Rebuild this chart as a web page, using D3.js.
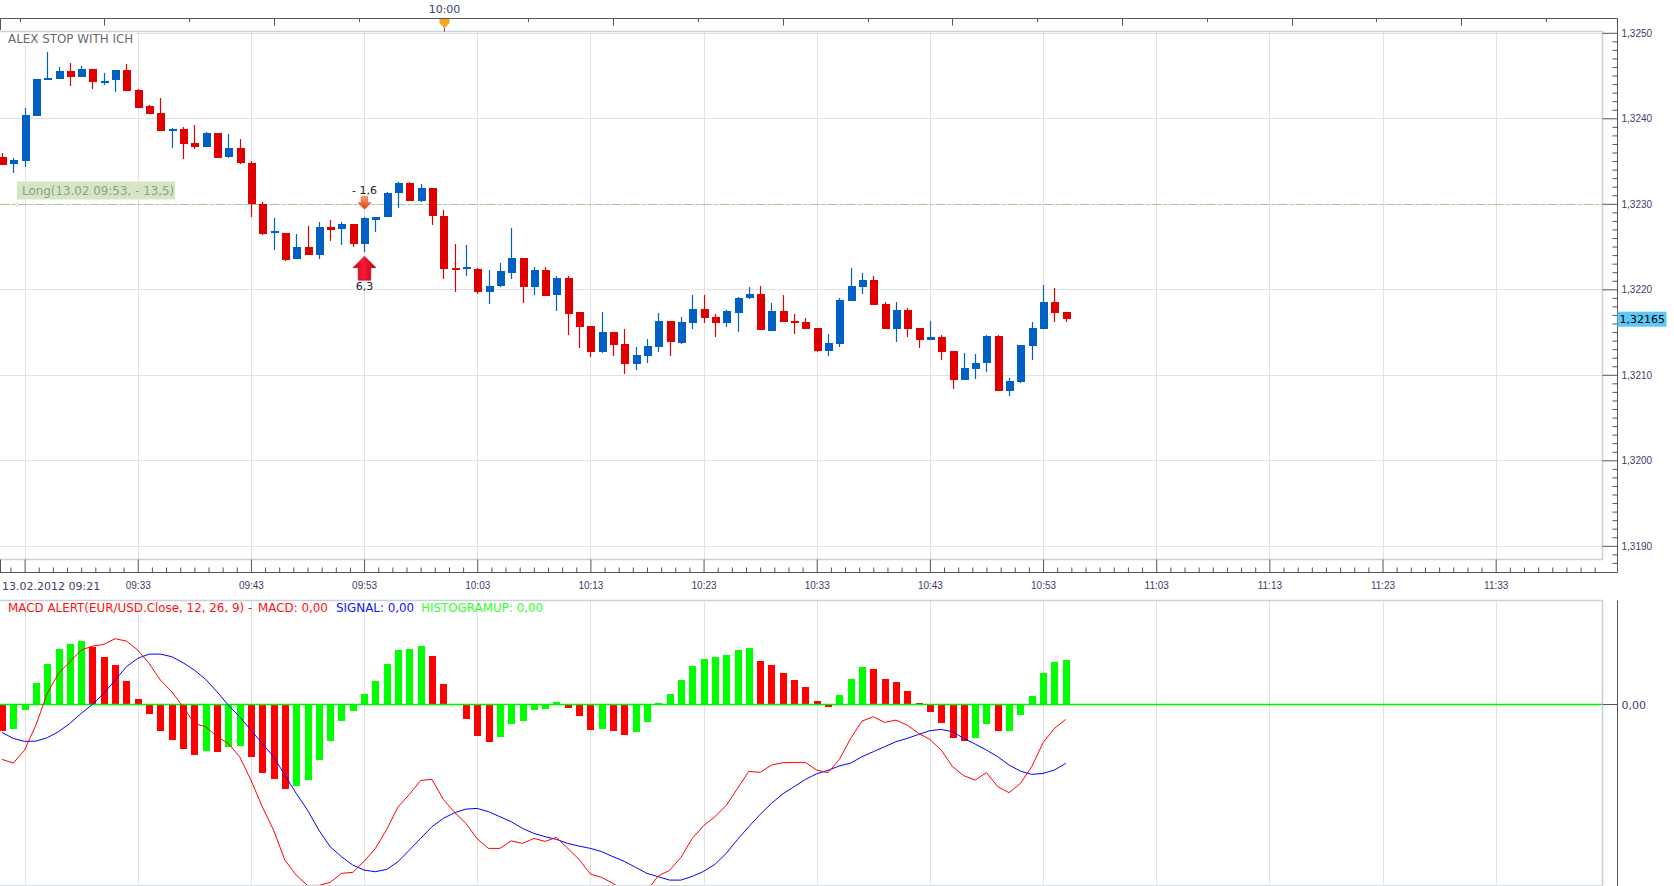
<!DOCTYPE html>
<html>
<head>
<meta charset="utf-8">
<title>ALEX STOP WITH ICH - EUR/USD 1 min</title>
<script src="https://cdnjs.cloudflare.com/ajax/libs/d3/7.8.5/d3.min.js"></script>
<style>
  body { margin: 0; background: #fff; }
  svg { display: block; font-family: "DejaVu Sans", Verdana, sans-serif; font-size: 11px; }
  .axis text { fill: #3d3d6b; }
  .axis line { stroke: #555; }
  .axis .domain { display: none; }
  .wide { font-size: 11.9px; }
</style>
</head>
<body>
<svg id="chart" width="1674" height="886"></svg>
<script>
// EUR/USD one minute candles, first one is 13.02.2012 09:21
var opens = [
  1.32355, 1.32346, 1.32350, 1.32403, 1.32445, 1.32446, 1.32455, 1.32449, 1.32458, 1.32443,
  1.32444, 1.32456, 1.32433, 1.32414, 1.32406, 1.32387, 1.32388, 1.32371, 1.32367, 1.32383,
  1.32354, 1.32365, 1.32348, 1.32300, 1.32266, 1.32266, 1.32235, 1.32249, 1.32240, 1.32273,
  1.32270, 1.32276, 1.32253, 1.32282, 1.32285, 1.32312, 1.32324, 1.32303, 1.32318, 1.32286,
  1.32225, 1.32224, 1.32224, 1.32197, 1.32203, 1.32220, 1.32237, 1.32203, 1.32223, 1.32193,
  1.32213, 1.32173, 1.32157, 1.32127, 1.32150, 1.32136, 1.32113, 1.32122, 1.32133, 1.32163,
  1.32138, 1.32161, 1.32177, 1.32168, 1.32161, 1.32173, 1.32189, 1.32194, 1.32152, 1.32175,
  1.32163, 1.32162, 1.32155, 1.32128, 1.32136, 1.32186, 1.32203, 1.32211, 1.32183, 1.32154,
  1.32176, 1.32155, 1.32141, 1.32144, 1.32128, 1.32094, 1.32107, 1.32113, 1.32145, 1.32081,
  1.32092, 1.32134, 1.32154, 1.32185, 1.32173
];
var highs = [
  1.32359, 1.32354, 1.32412, 1.32446, 1.32478, 1.32460, 1.32465, 1.32461, 1.32458, 1.32453,
  1.32456, 1.32463, 1.32434, 1.32415, 1.32424, 1.32389, 1.32390, 1.32392, 1.32384, 1.32383,
  1.32382, 1.32376, 1.32350, 1.32302, 1.32283, 1.32266, 1.32265, 1.32274, 1.32279, 1.32281,
  1.32279, 1.32276, 1.32285, 1.32285, 1.32314, 1.32326, 1.32325, 1.32323, 1.32318, 1.32293,
  1.32253, 1.32252, 1.32225, 1.32222, 1.32231, 1.32272, 1.32237, 1.32226, 1.32226, 1.32216,
  1.32216, 1.32173, 1.32157, 1.32173, 1.32150, 1.32154, 1.32133, 1.32142, 1.32172, 1.32163,
  1.32168, 1.32193, 1.32193, 1.32171, 1.32176, 1.32191, 1.32203, 1.32204, 1.32184, 1.32193,
  1.32171, 1.32166, 1.32155, 1.32148, 1.32190, 1.32225, 1.32219, 1.32216, 1.32185, 1.32185,
  1.32178, 1.32155, 1.32163, 1.32147, 1.32128, 1.32125, 1.32124, 1.32147, 1.32147, 1.32096,
  1.32135, 1.32162, 1.32205, 1.32202, 1.32174
];
var lows = [
  1.32345, 1.32336, 1.32343, 1.32403, 1.32445, 1.32446, 1.32438, 1.32449, 1.32434, 1.32439,
  1.32431, 1.32432, 1.32412, 1.32405, 1.32385, 1.32365, 1.32352, 1.32364, 1.32367, 1.32354,
  1.32354, 1.32347, 1.32284, 1.32263, 1.32246, 1.32233, 1.32235, 1.32240, 1.32235, 1.32257,
  1.32252, 1.32250, 1.32244, 1.32267, 1.32285, 1.32295, 1.32303, 1.32302, 1.32275, 1.32212,
  1.32197, 1.32215, 1.32195, 1.32183, 1.32203, 1.32212, 1.32184, 1.32193, 1.32192, 1.32175,
  1.32147, 1.32131, 1.32121, 1.32126, 1.32122, 1.32101, 1.32106, 1.32114, 1.32127, 1.32122,
  1.32136, 1.32154, 1.32160, 1.32144, 1.32156, 1.32150, 1.32189, 1.32152, 1.32152, 1.32162,
  1.32148, 1.32154, 1.32127, 1.32122, 1.32133, 1.32186, 1.32195, 1.32182, 1.32154, 1.32138,
  1.32144, 1.32131, 1.32141, 1.32117, 1.32083, 1.32094, 1.32095, 1.32103, 1.32081, 1.32075,
  1.32090, 1.32117, 1.32154, 1.32162, 1.32162
];
var closes = [
  1.32346, 1.32351, 1.32404, 1.32446, 1.32447, 1.32455, 1.32448, 1.32458, 1.32443, 1.32444,
  1.32456, 1.32432, 1.32412, 1.32405, 1.32385, 1.32388, 1.32370, 1.32366, 1.32383, 1.32354,
  1.32365, 1.32347, 1.32300, 1.32265, 1.32268, 1.32235, 1.32249, 1.32240, 1.32273, 1.32270,
  1.32276, 1.32253, 1.32283, 1.32285, 1.32313, 1.32324, 1.32303, 1.32318, 1.32285, 1.32224,
  1.32223, 1.32226, 1.32197, 1.32204, 1.32221, 1.32237, 1.32203, 1.32223, 1.32193, 1.32213,
  1.32171, 1.32156, 1.32127, 1.32150, 1.32135, 1.32113, 1.32123, 1.32134, 1.32163, 1.32139,
  1.32162, 1.32177, 1.32167, 1.32161, 1.32175, 1.32190, 1.32194, 1.32152, 1.32175, 1.32162,
  1.32161, 1.32154, 1.32128, 1.32137, 1.32187, 1.32204, 1.32211, 1.32182, 1.32154, 1.32176,
  1.32154, 1.32141, 1.32144, 1.32127, 1.32094, 1.32108, 1.32114, 1.32145, 1.32081, 1.32093,
  1.32135, 1.32155, 1.32185, 1.32172, 1.32165
];

// MACD(12, 26, 9) in pips, same minutes as the candles
var macdValues = [
  -0.550, -0.587, -0.457, -0.207, 0.110, 0.310, 0.427, 0.543, 0.583, 0.600,
  0.657, 0.633, 0.543, 0.410, 0.243, 0.127, -0.023, -0.190, -0.223, -0.323,
  -0.390, -0.523, -0.757, -1.023, -1.257, -1.557, -1.707, -1.810, -1.810, -1.780,
  -1.690, -1.680, -1.570, -1.440, -1.250, -1.025, -0.900, -0.760, -0.750, -0.950,
  -1.080, -1.190, -1.345, -1.440, -1.440, -1.365, -1.390, -1.340, -1.370, -1.330,
  -1.440, -1.550, -1.697, -1.730, -1.790, -1.870, -1.900, -1.865, -1.715, -1.660,
  -1.530, -1.340, -1.213, -1.123, -1.010, -0.840, -0.670, -0.680, -0.607, -0.583,
  -0.580, -0.580, -0.657, -0.683, -0.550, -0.340, -0.167, -0.123, -0.180, -0.157,
  -0.207, -0.290, -0.350, -0.457, -0.623, -0.713, -0.757, -0.683, -0.823, -0.883,
  -0.790, -0.623, -0.383, -0.240, -0.150
];
var signalValues = [
  -0.280, -0.340, -0.370, -0.367, -0.333, -0.273, -0.190, -0.090, 0.000, 0.110,
  0.243, 0.377, 0.460, 0.503, 0.503, 0.477, 0.417, 0.343, 0.250, 0.127,
  -0.007, -0.123, -0.257, -0.390, -0.523, -0.707, -0.890, -1.057, -1.257, -1.423,
  -1.523, -1.607, -1.657, -1.673, -1.650, -1.573, -1.457, -1.340, -1.223, -1.140,
  -1.083, -1.047, -1.040, -1.073, -1.123, -1.173, -1.240, -1.290, -1.323, -1.350,
  -1.390, -1.417, -1.440, -1.473, -1.523, -1.570, -1.630, -1.690, -1.723, -1.757,
  -1.757, -1.720, -1.670, -1.600, -1.490, -1.350, -1.223, -1.100, -0.990, -0.895,
  -0.823, -0.750, -0.693, -0.660, -0.615, -0.587, -0.523, -0.473, -0.423, -0.373,
  -0.340, -0.300, -0.263, -0.250, -0.273, -0.340, -0.397, -0.457, -0.523, -0.607,
  -0.667, -0.700, -0.690, -0.657, -0.590
];
var histValues = [
  -0.263, -0.243, -0.053, 0.213, 0.403, 0.553, 0.603, 0.633, 0.570, 0.473,
  0.393, 0.233, 0.053, -0.097, -0.263, -0.353, -0.443, -0.503, -0.463, -0.473,
  -0.423, -0.413, -0.523, -0.683, -0.743, -0.843, -0.813, -0.753, -0.553, -0.363,
  -0.163, -0.063, 0.100, 0.237, 0.403, 0.543, 0.553, 0.583, 0.483, 0.203,
  0.003, -0.143, -0.313, -0.373, -0.323, -0.193, -0.167, -0.053, -0.043, 0.027,
  -0.033, -0.117, -0.257, -0.250, -0.267, -0.307, -0.273, -0.173, 0.013, 0.103,
  0.243, 0.383, 0.453, 0.473, 0.493, 0.543, 0.563, 0.433, 0.393, 0.313,
  0.243, 0.173, 0.033, -0.027, 0.093, 0.253, 0.373, 0.353, 0.253, 0.223,
  0.133, 0.010, -0.077, -0.187, -0.337, -0.367, -0.337, -0.197, -0.270, -0.265,
  -0.107, 0.083, 0.313, 0.423, 0.443
];
var histBefore = -0.200; // bar at 09:20, off the left edge

var timeTicks = ["09:23", "09:33", "09:43", "09:53", "10:03", "10:13", "10:23",
                 "10:33", "10:43", "10:53", "11:03", "11:13", "11:23", "11:33"];
var priceTicks = [1.3190, 1.3200, 1.3210, 1.3220, 1.3230, 1.3240, 1.3250];

var strategyName = "ALEX STOP WITH ICH";
var position = {label: "Long(13.02 09:53, - 13,5)", price: 1.3230, entry: "09:53", up: "6,3", down: "- 1,6"};

var day = "2012-02-13 ";
var parseT = d3.timeParse("%Y-%m-%d %H:%M");
var t0 = parseT(day + "09:21");
var loc = d3.formatLocale({decimal: ",", thousands: ".", grouping: [3], currency: ["", ""]});
var fmt4 = loc.format(".4f"), fmt5 = loc.format(".5f"), fmt2 = loc.format(".2f");

var bars = opens.map(function(o, i) {
  return {t: new Date(t0.getTime() + i * 60000), o: o, h: highs[i], l: lows[i], c: closes[i],
          macd: macdValues[i], sig: signalValues[i], hist: histValues[i],
          histUp: histValues[i] > (i ? histValues[i - 1] : histBefore)};
});

var svg = d3.select("#chart");
var plotR = 1602.5, plotT = 31.5, plotB = 559.5;
var axR = 1617.5, topAxY = 18.5, botAxY = 572.5;
var mTop = 600.5, mBot = 885.5;

var tickDates = timeTicks.map(function(s) { return parseT(day + s); });
var x = d3.scaleTime().domain([tickDates[0], tickDates[tickDates.length - 1]]).range([24.6, 1495.7]);
var y = d3.scaleLinear().domain([1.3190, 1.3250]).range([545.8, 32.8]);
var ym = d3.scaleLinear().domain([-1.816, 1.034]).range([886, 601]);
var step = x(bars[1].t) - x(bars[0].t);
var bw = Math.round(step * 0.7);

var defs = svg.append("defs");
defs.append("clipPath").attr("id", "clipPrice").append("rect")
  .attr("x", 0).attr("y", plotT).attr("width", plotR).attr("height", plotB - plotT);
defs.append("clipPath").attr("id", "clipMacd").append("rect")
  .attr("x", 0).attr("y", mTop).attr("width", plotR).attr("height", mBot - mTop);
var g1 = defs.append("linearGradient").attr("id", "gDown").attr("x1", 0).attr("y1", 0).attr("x2", 0).attr("y2", 1);
g1.append("stop").attr("offset", "0%").attr("stop-color", "#f7a070");
g1.append("stop").attr("offset", "100%").attr("stop-color", "#e03a10");
var g2 = defs.append("linearGradient").attr("id", "gUp").attr("x1", 0).attr("y1", 0).attr("x2", 1).attr("y2", 0);
g2.append("stop").attr("offset", "0%").attr("stop-color", "#c8001c");
g2.append("stop").attr("offset", "45%").attr("stop-color", "#ff1838");
g2.append("stop").attr("offset", "100%").attr("stop-color", "#b00010");

// ---------- price pane ----------
var grid = svg.append("g").attr("clip-path", "url(#clipPrice)");
grid.selectAll("line.h").data(priceTicks).enter().append("line")
  .attr("x1", 0).attr("x2", plotR)
  .attr("y1", function(d) { return Math.round(y(d)) + 0.5; })
  .attr("y2", function(d) { return Math.round(y(d)) + 0.5; })
  .attr("stroke", "#e2e2e2");
grid.selectAll("line.v").data(tickDates).enter().append("line")
  .attr("x1", function(d) { return Math.round(x(d)) + 0.5; })
  .attr("x2", function(d) { return Math.round(x(d)) + 0.5; })
  .attr("y1", plotT).attr("y2", plotB)
  .attr("stroke", "#e2e2e2");

// position line
var py = Math.round(y(position.price)) + 0.5;
svg.append("line").attr("x1", 0).attr("x2", plotR).attr("y1", py).attr("y2", py)
  .attr("stroke", "#9fc98c").attr("stroke-dasharray", "9,3,3,3");
svg.append("circle").attr("cx", 17).attr("cy", py).attr("r", 1.6)
  .attr("fill", "#fff").attr("stroke", "#c8dcb8");
svg.append("rect").attr("x", 17).attr("y", py - 23).attr("width", 158).attr("height", 18)
  .attr("fill", "#d5e5c6");
svg.append("text").attr("class", "wide").attr("x", 22).attr("y", py - 10).attr("fill", "#8ca67a")
  .text(position.label);

// candles
var cg = svg.append("g").attr("clip-path", "url(#clipPrice)");
var candle = cg.selectAll("g.c").data(bars).enter().append("g");
candle.append("line")
  .attr("x1", function(d) { return Math.round(x(d.t)) + 0.5; })
  .attr("x2", function(d) { return Math.round(x(d.t)) + 0.5; })
  .attr("y1", function(d) { return Math.round(y(d.h)); })
  .attr("y2", function(d) { return Math.round(y(d.l)); })
  .attr("stroke", function(d) { return d.c >= d.o ? "#0060c4" : "#e00000"; })
  .attr("stroke-width", 1.2);
candle.append("rect")
  .attr("x", function(d) { return Math.round(x(d.t)) + 0.5 - bw / 2; })
  .attr("y", function(d) { return Math.round(y(Math.max(d.o, d.c))); })
  .attr("width", bw)
  .attr("height", function(d) { return Math.max(2, Math.round(Math.abs(y(d.o) - y(d.c)))); })
  .attr("fill", function(d) { return d.c >= d.o ? "#0060c4" : "#e00000"; })
  .attr("shape-rendering", "crispEdges");

// entry arrows on the 09:53 candle
var eb = bars.filter(function(d) { return d3.timeFormat("%H:%M")(d.t) === position.entry; })[0];
var ax = Math.round(x(eb.t)) + 0.5;
var upTop = y(eb.l) + 4.5, dnBot = y(eb.h) - 7.5;
svg.append("path")
  .attr("d", d3.line()([[ax, upTop], [ax + 11.5, upTop + 11.5], [ax + 6.3, upTop + 11.5], [ax + 6.3, upTop + 24],
                        [ax - 6.3, upTop + 24], [ax - 6.3, upTop + 11.5], [ax - 11.5, upTop + 11.5]]) + "Z")
  .attr("fill", "url(#gUp)").attr("stroke", "#b0001a").attr("stroke-width", 0.6);
svg.append("path")
  .attr("d", d3.line()([[ax, dnBot], [ax - 6.5, dnBot - 6.5], [ax - 3.3, dnBot - 6.5], [ax - 3.3, dnBot - 12.5],
                        [ax + 3.3, dnBot - 12.5], [ax + 3.3, dnBot - 6.5], [ax + 6.5, dnBot - 6.5]]) + "Z")
  .attr("fill", "url(#gDown)").attr("stroke", "#d04010").attr("stroke-width", 0.5);
svg.append("text").attr("x", ax).attr("y", upTop + 34).attr("text-anchor", "middle")
  .attr("fill", "#222").text(position.up);
svg.append("text").attr("x", ax).attr("y", dnBot - 15.5).attr("text-anchor", "middle")
  .attr("fill", "#222").text(position.down);

// strategy caption
svg.append("rect").attr("x", 0).attr("y", plotT + 1).attr("width", 136).attr("height", 13).attr("fill", "#fff");
svg.append("text").attr("class", "wide").attr("x", 8).attr("y", 43).attr("fill", "#6a6a6a").text(strategyName);

// pane border
svg.append("path")
  .attr("d", "M0," + plotT + "H" + plotR + "V" + plotB + "H0")
  .attr("fill", "none").attr("stroke", "#c9d1dc").attr("stroke-width", 1.6);

// right price axis
svg.append("line").attr("x1", axR).attr("x2", axR).attr("y1", topAxY).attr("y2", botAxY).attr("stroke", "#555");
var minorPrices = d3.range(0, 63).map(function(k) { return 1.3188 + k * 0.0001; })
  .filter(function(p) { return Math.round(p * 10000) % 10 !== 0; });
svg.append("g").attr("class", "axis").attr("transform", "translate(" + axR + ",0)")
  .call(d3.axisRight(y).tickValues(minorPrices).tickSize(-5).tickFormat(""));
svg.append("g").attr("class", "axis").attr("transform", "translate(" + axR + ",0)")
  .call(d3.axisRight(y).tickValues(priceTicks).tickSize(-(axR - plotR)).tickPadding(4).tickFormat(fmt4));

// last price box
var last = bars[bars.length - 1];
var ly = y(last.c);
svg.append("rect").attr("x", axR).attr("y", ly - 7.5).attr("width", 49).attr("height", 15).attr("fill", "#5ec8f4");
svg.append("text").attr("x", axR + 2).attr("y", ly + 4).attr("fill", "#000").text(fmt5(last.c));

// top overview axis
var topX = d3.scaleTime().domain([parseT(day + "09:35"), parseT(day + "11:05")]).range([19.5, 1546]);
var topTicks = d3.timeMinute.every(5).range(parseT(day + "09:35"), parseT(day + "11:06"));
svg.append("line").attr("x1", 0).attr("x2", axR).attr("y1", topAxY).attr("y2", topAxY).attr("stroke", "#555");
svg.append("line").attr("x1", 0.5).attr("x2", 0.5).attr("y1", topAxY).attr("y2", 30).attr("stroke", "#555");
svg.selectAll("line.tt").data(topTicks).enter().append("line")
  .attr("x1", function(d) { return Math.round(topX(d)) + 0.5; })
  .attr("x2", function(d) { return Math.round(topX(d)) + 0.5; })
  .attr("y1", topAxY)
  .attr("y2", function(d) { return topAxY + (d.getMinutes() % 10 === 0 ? 7 : 3.5); })
  .attr("stroke", "#555");
var now = parseT(day + "10:00");
var nx = Math.round(topX(now)) + 0.5;
svg.append("line").attr("x1", nx).attr("x2", nx).attr("y1", topAxY).attr("y2", plotT).attr("stroke", "#555");
svg.append("path").attr("d", d3.line()([[nx - 5, 19], [nx + 5, 19], [nx + 5, 23], [nx, 28.5], [nx - 5, 23]]) + "Z")
  .attr("fill", "#f6a520");
svg.append("text").attr("x", nx).attr("y", 13).attr("text-anchor", "middle")
  .attr("fill", "#3d3d6b").text(d3.timeFormat("%H:%M")(now));

// bottom time axis
svg.append("line").attr("x1", 0).attr("x2", axR).attr("y1", botAxY).attr("y2", botAxY).attr("stroke", "#555");
svg.append("line").attr("x1", 0.5).attr("x2", 0.5).attr("y1", plotB).attr("y2", botAxY).attr("stroke", "#555");
var minorTimes = d3.range(-1, 113).filter(function(k) { return k % 8 !== 0; })
  .map(function(k) { return new Date(tickDates[0].getTime() + k * 75000); });
svg.append("g").attr("class", "axis").attr("transform", "translate(0," + botAxY + ")")
  .call(d3.axisBottom(x).tickValues(minorTimes).tickSize(-5).tickFormat(""));
var bax = svg.append("g").attr("class", "axis").attr("transform", "translate(0," + botAxY + ")")
  .call(d3.axisBottom(x).tickValues(tickDates).tickSize(-(botAxY - plotB)).tickPadding(9)
        .tickFormat(d3.timeFormat("%H:%M")));
bax.selectAll(".tick text").filter(function(d, i) { return i === 0; }).remove();
svg.append("text").attr("x", 2).attr("y", 590).attr("fill", "#3d3d6b")
  .text(d3.timeFormat("%d.%m.%Y %H:%M")(t0));

// ---------- MACD pane ----------
var mg = svg.append("g").attr("clip-path", "url(#clipMacd)");
mg.selectAll("line.v").data(tickDates).enter().append("line")
  .attr("x1", function(d) { return Math.round(x(d)) + 0.5; })
  .attr("x2", function(d) { return Math.round(x(d)) + 0.5; })
  .attr("y1", mTop).attr("y2", mBot)
  .attr("stroke", "#e2e2e2");
var zy = Math.round(ym(0)) + 0.5;
var hw = Math.round(step * 0.66);
mg.selectAll("rect.hist").data(bars).enter().append("rect")
  .attr("x", function(d) { return Math.round(x(d.t)) + 0.5 - hw / 2; })
  .attr("y", function(d) { return d.hist >= 0 ? Math.min(zy - 1, ym(d.hist)) : zy; })
  .attr("width", hw)
  .attr("height", function(d) { return Math.max(1, Math.abs(ym(d.hist) - zy)); })
  .attr("fill", function(d) { return d.histUp ? "#00ff00" : "#ff0000"; })
  .attr("shape-rendering", "crispEdges");
mg.append("line").attr("x1", 0).attr("x2", plotR).attr("y1", zy).attr("y2", zy)
  .attr("stroke", "#00f000").attr("stroke-width", 1.3);
mg.append("path").datum(bars)
  .attr("d", d3.line().x(function(d) { return x(d.t); }).y(function(d) { return ym(d.sig); }))
  .attr("fill", "none").attr("stroke", "#0000ff").attr("stroke-width", 1);
mg.append("path").datum(bars)
  .attr("d", d3.line().x(function(d) { return x(d.t); }).y(function(d) { return ym(d.macd); }))
  .attr("fill", "none").attr("stroke", "#ff0000").attr("stroke-width", 1);

svg.append("path")
  .attr("d", "M0," + mTop + "H" + plotR + "V" + (mBot + 2))
  .attr("fill", "none").attr("stroke", "#c9d1dc").attr("stroke-width", 1.6);
svg.append("line").attr("x1", 0).attr("x2", plotR).attr("y1", mBot).attr("y2", mBot).attr("stroke", "#d8dde5");
svg.append("line").attr("x1", axR).attr("x2", axR).attr("y1", mTop).attr("y2", 886).attr("stroke", "#555");
svg.append("line").attr("x1", plotR).attr("x2", axR).attr("y1", zy).attr("y2", zy).attr("stroke", "#555");
svg.append("text").attr("x", axR + 4).attr("y", zy + 4).attr("fill", "#3d3d6b").text(fmt2(0));

var legend = svg.append("text").attr("class", "wide").attr("y", 612);
legend.append("tspan").attr("x", 8).attr("fill", "#ff1010").text("MACD ALERT(EUR/USD.Close, 12, 26, 9) -");
legend.append("tspan").attr("x", 258).attr("fill", "#ff1010").text("MACD: " + fmt2(0));
legend.append("tspan").attr("x", 336).attr("fill", "#1010ff").text("SIGNAL: " + fmt2(0));
legend.append("tspan").attr("x", 421).attr("fill", "#30ff30").text("HISTOGRAMUP: " + fmt2(0));
</script>
</body>
</html>
